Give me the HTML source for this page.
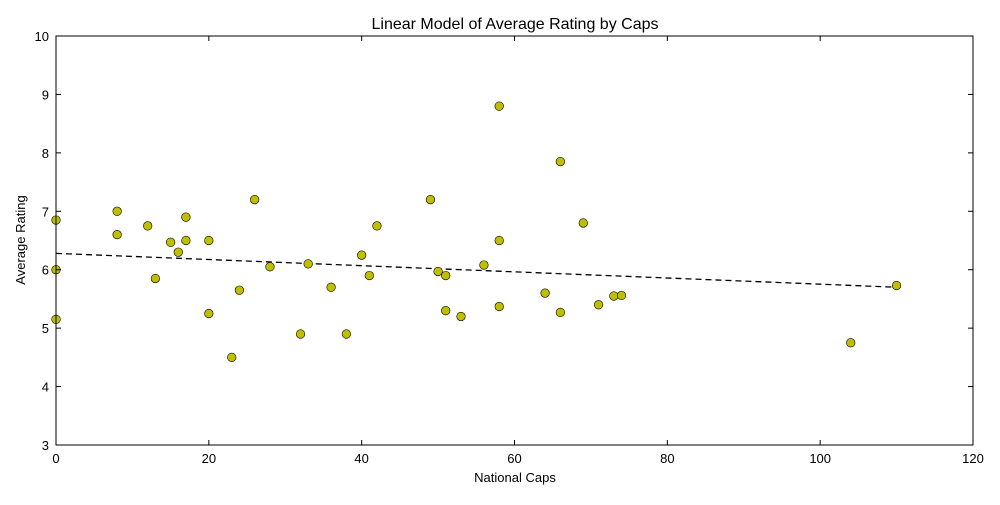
<!DOCTYPE html>
<html><head><meta charset="utf-8"><style>
body{margin:0;background:#fff;}
svg text{font-family:"Liberation Sans","DejaVu Sans",sans-serif;}
</style></head><body>
<svg id="chart" width="1000" height="500" xmlns="http://www.w3.org/2000/svg"></svg>
<script>
const capsValues=[0,0,0,8,8,12,13,15,16,17,17,20,20,23,24,26,28,32,33,36,38,40,41,42,49,50,51,51,53,56,58,58,58,64,66,66,69,71,73,74,104,110];
const ratingValues=[6.85,6.0,5.15,7.0,6.6,6.75,5.85,6.47,6.3,6.9,6.5,6.5,5.25,4.5,5.65,7.2,6.05,4.9,6.1,5.7,4.9,6.25,5.9,6.75,7.2,5.97,5.9,5.3,5.2,6.08,8.8,6.5,5.37,5.6,7.85,5.27,6.8,5.4,5.55,5.56,4.75,5.73];
const fitStart=[0,6.28];
const fitEnd=[110,5.70];
const xTicks=[0,20,40,60,80,100,120];
const yTicks=[3,4,5,6,7,8,9,10];
const L=56,R=973,T=36,B=445;
const xs=v=>L+(v-0)/(120-0)*(R-L);
const ys=v=>B-(v-3)/(10-3)*(B-T);
const svg=document.getElementById('chart');
const NS='http://www.w3.org/2000/svg';
function mk(tag,attrs,parent){const e=document.createElementNS(NS,tag);for(const k in attrs)e.setAttribute(k,attrs[k]);(parent||svg).appendChild(e);return e;}
let t=mk('text',{x:515,y:29,'text-anchor':'middle','font-size':16,fill:'#000'});t.textContent='Linear Model of Average Rating by Caps';


// fit line
let fl=mk('line',{x1:xs(fitStart[0]),y1:ys(fitStart[1]),x2:xs(fitEnd[0]),y2:ys(fitEnd[1]),stroke:'#000','stroke-width':1.3,'stroke-dasharray':'6,4'});


// points
for(let i=0;i<capsValues.length;i++){
  const c=mk('circle',{cx:xs(capsValues[i]),cy:ys(ratingValues[i]),r:4.3,fill:'#bfbf00',stroke:'#000','stroke-width':0.6});
  
  
}
// frame
let fr=mk('rect',{x:L,y:T,width:R-L,height:B-T,fill:'none',stroke:'#000','stroke-width':1});


xTicks.forEach(v=>{
  const x=xs(v);
  mk('line',{x1:x,y1:B,x2:x,y2:B-5,stroke:'#000'});
  mk('line',{x1:x,y1:T,x2:x,y2:T+5,stroke:'#000'});
  const tx=mk('text',{x:x,y:B+18,'text-anchor':'middle','font-size':13,fill:'#000'});tx.textContent=v;
  
  
});
yTicks.forEach(v=>{
  const y=ys(v);
  mk('line',{x1:L,y1:y,x2:L+5,y2:y,stroke:'#000'});
  mk('line',{x1:R,y1:y,x2:R-5,y2:y,stroke:'#000'});
  const tx=mk('text',{x:L-7,y:y+5,'text-anchor':'end','font-size':13,fill:'#000'});tx.textContent=v;
  
  
});
let xt=mk('text',{x:515,y:482,'text-anchor':'middle','font-size':13,fill:'#000'});xt.textContent='National Caps';


let yt=mk('text',{x:25,y:240,'text-anchor':'middle','font-size':13,fill:'#000',transform:'rotate(-90 25 240)'});yt.textContent='Average Rating';


</script>
</body></html>
